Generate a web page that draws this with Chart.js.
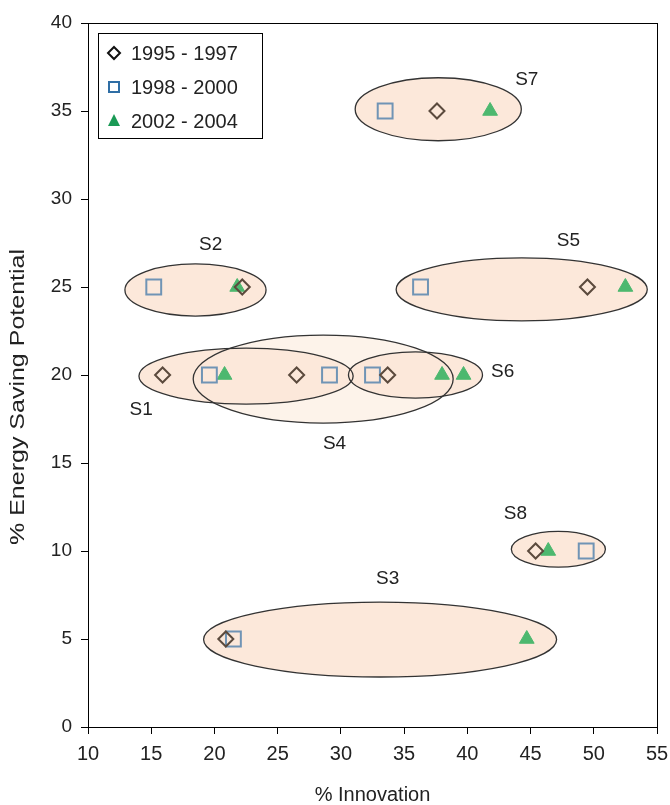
<!DOCTYPE html>
<html>
<head>
<meta charset="utf-8">
<script src="https://cdn.jsdelivr.net/npm/chart.js@4.4.0/dist/chart.umd.min.js"></script>
<style>
html,body{margin:0;padding:0;background:#fff;}
#wrap{width:670px;height:805px;}
</style>
</head>
<body>
<div id="wrap"><canvas id="c" width="670" height="805"></canvas></div>
<script>
// ---- data ----
const seriesLabels = ['1995 - 1997', '1998 - 2000', '2002 - 2004'];
const x9597 = [37.6, 22.2, 49.5, 15.9, 26.5, 33.7, 45.4, 20.9];
const y9597 = [35, 25, 25, 20, 20, 20, 10, 5];
const x9800 = [33.5, 15.2, 36.3, 19.6, 29.1, 32.5, 49.4, 21.5];
const y9800 = [35, 25, 25, 20, 20, 20, 10, 5];
const x0204 = [41.8, 21.8, 52.5, 20.8, 38.0, 39.7, 46.4, 44.7];
const y0204 = [35, 25, 25, 20, 20, 20, 10, 5];

const groupNames = ['S4', 'S7', 'S2', 'S5', 'S1', 'S6', 'S8', 'S3'];
const groupCx = [28.6, 37.7, 18.5, 44.3, 22.5, 35.9, 47.2, 33.1];
const groupCy = [19.77, 35.1, 24.83, 24.86, 19.94, 20.0, 10.1, 4.97];
const groupRx = [10.28, 6.57, 5.58, 9.93, 8.47, 5.3, 3.72, 13.96];
const groupRy = [2.5, 1.79, 1.48, 1.79, 1.59, 1.31, 1.02, 2.13];
const groupLabelX = [29.5, 44.7, 19.7, 48.0, 14.2, 42.8, 43.8, 33.7];
const groupLabelY = [16.1, 36.8, 27.4, 27.6, 18.0, 20.2, 12.1, 8.4];

const xTicks = [10, 15, 20, 25, 30, 35, 40, 45, 50, 55];
const yTicks = [0, 5, 10, 15, 20, 25, 30, 35, 40];
const xTitle = '% Innovation';
const yTitle = '% Energy Saving Potential';

const toPts = (xs, ys) => xs.map((v, i) => ({x: v, y: ys[i]}));

const FONT = "'Liberation Sans', Arial, sans-serif";

const ellipsePlugin = {
  id: 'ellipses',
  beforeDatasetsDraw(chart) {
    const {ctx, scales: {x, y}} = chart;
    ctx.save();
    const shapes = groupNames.map((n, i) => {
      const cx = x.getPixelForValue(groupCx[i]);
      const cy = y.getPixelForValue(groupCy[i]);
      const rx = Math.abs(x.getPixelForValue(groupCx[i] + groupRx[i]) - cx);
      const ry = Math.abs(y.getPixelForValue(groupCy[i] + groupRy[i]) - cy);
      return {n, cx, cy, rx, ry};
    });
    shapes.forEach(s => {
      ctx.beginPath();
      ctx.ellipse(s.cx, s.cy, s.rx, s.ry, 0, 0, Math.PI * 2);
      ctx.fillStyle = s.n === 'S4' ? '#fdf3ea' : '#fce8da';
      ctx.fill();
    });
    shapes.forEach(s => {
      ctx.beginPath();
      ctx.ellipse(s.cx, s.cy, s.rx, s.ry, 0, 0, Math.PI * 2);
      ctx.strokeStyle = '#333';
      ctx.lineWidth = 1.3;
      ctx.stroke();
    });
    ctx.fillStyle = '#222';
    ctx.font = '19px ' + FONT;
    ctx.textAlign = 'center';
    ctx.textBaseline = 'middle';
    groupNames.forEach((n, i) => {
      ctx.fillText(n, x.getPixelForValue(groupLabelX[i]), y.getPixelForValue(groupLabelY[i]));
    });
    ctx.restore();
  },
  afterDraw(chart) {
    const {ctx, chartArea: a} = chart;
    ctx.save();
    ctx.strokeStyle = '#000';
    ctx.lineWidth = 1;
    ctx.strokeRect(Math.round(a.left) + 0.5, Math.round(a.top) + 0.5, Math.round(a.right - a.left), Math.round(a.bottom - a.top));
    // y axis title (slightly stretched along its length, as in the reference)
    ctx.save();
    ctx.translate(18, (a.top + a.bottom) / 2 + 22);
    ctx.rotate(-Math.PI / 2);
    ctx.scale(1.25, 1);
    ctx.font = '20px ' + FONT;
    ctx.fillStyle = '#222';
    ctx.textAlign = 'center';
    ctx.textBaseline = 'middle';
    ctx.fillText(yTitle, 0, 0);
    ctx.restore();
    // legend
    const lx = 98, ly = 33, lw = 164, lh = 105;
    ctx.fillStyle = '#fff';
    ctx.fillRect(lx, ly, lw, lh);
    ctx.strokeStyle = '#000';
    ctx.strokeRect(lx + 0.5, ly + 0.5, lw, lh);
    ctx.font = '20px ' + FONT;
    ctx.textAlign = 'left';
    ctx.textBaseline = 'middle';
    seriesLabels.forEach((lab, i) => {
      const yy = ly + 20 + i * 34;
      const mx = 114;
      ctx.lineWidth = 2;
      if (i === 0) {
        ctx.strokeStyle = '#111';
        ctx.beginPath();
        ctx.moveTo(mx, yy - 6); ctx.lineTo(mx + 6, yy); ctx.lineTo(mx, yy + 6); ctx.lineTo(mx - 6, yy); ctx.closePath();
        ctx.stroke();
      } else if (i === 1) {
        ctx.strokeStyle = '#2f6ea5';
        ctx.strokeRect(mx - 5, yy - 5, 10, 10);
      } else {
        ctx.fillStyle = '#1a9a55';
        ctx.beginPath();
        ctx.moveTo(mx, yy - 7); ctx.lineTo(mx + 6, yy + 5); ctx.lineTo(mx - 6, yy + 5); ctx.closePath();
        ctx.fill();
      }
      ctx.fillStyle = '#222';
      ctx.fillText(lab, 131, yy + 1);
    });
    ctx.restore();
  }
};

new Chart(document.getElementById('c'), {
  type: 'scatter',
  data: {
    datasets: [
      {label: seriesLabels[0], data: toPts(x9597, y9597), pointStyle: 'rectRot', radius: 7.5,
       borderColor: '#5b4a3d', backgroundColor: 'rgba(0,0,0,0)', borderWidth: 2},
      {label: seriesLabels[1], data: toPts(x9800, y9800), pointStyle: 'rect', radius: 10.5,
       borderColor: '#7094b5', backgroundColor: 'rgba(0,0,0,0)', borderWidth: 2},
      {label: seriesLabels[2], data: toPts(x0204, y0204), pointStyle: 'triangle', radius: 8.5,
       borderColor: '#4db86f', backgroundColor: '#4db86f', borderWidth: 1}
    ]
  },
  options: {
    responsive: false,
    animation: false,
    layout: {padding: {left: 0, right: 13, top: 23, bottom: 0}},
    plugins: {legend: {display: false}, tooltip: {enabled: false}},
    scales: {
      x: {
        type: 'linear', min: 10, max: 55,
        afterBuildTicks: s => { s.ticks = xTicks.map(v => ({value: v})); },
        afterFit: s => { s.height = 78; s.paddingLeft = 0; s.paddingRight = 0; },
        grid: {drawOnChartArea: false, drawTicks: true, tickLength: 7, color: '#000'},
        border: {display: true, color: '#000'},
        ticks: {color: '#222', font: {family: FONT, size: 20}, padding: 8, maxRotation: 0},
        title: {display: true, text: xTitle, color: '#222', font: {family: FONT, size: 20}, padding: {top: 0, bottom: -2}}
      },
      y: {
        type: 'linear', min: 0, max: 40,
        afterBuildTicks: s => { s.ticks = yTicks.map(v => ({value: v})); },
        afterFit: s => { s.width = 88; s.paddingTop = 0; s.paddingBottom = 0; },
        grid: {drawOnChartArea: false, drawTicks: true, tickLength: 7, color: '#000'},
        border: {display: true, color: '#000'},
        ticks: {color: '#222', font: {family: FONT, size: 19}, padding: 9},
        title: {display: false, text: yTitle}
      }
    }
  },
  plugins: [ellipsePlugin]
});
</script>
</body>
</html>
